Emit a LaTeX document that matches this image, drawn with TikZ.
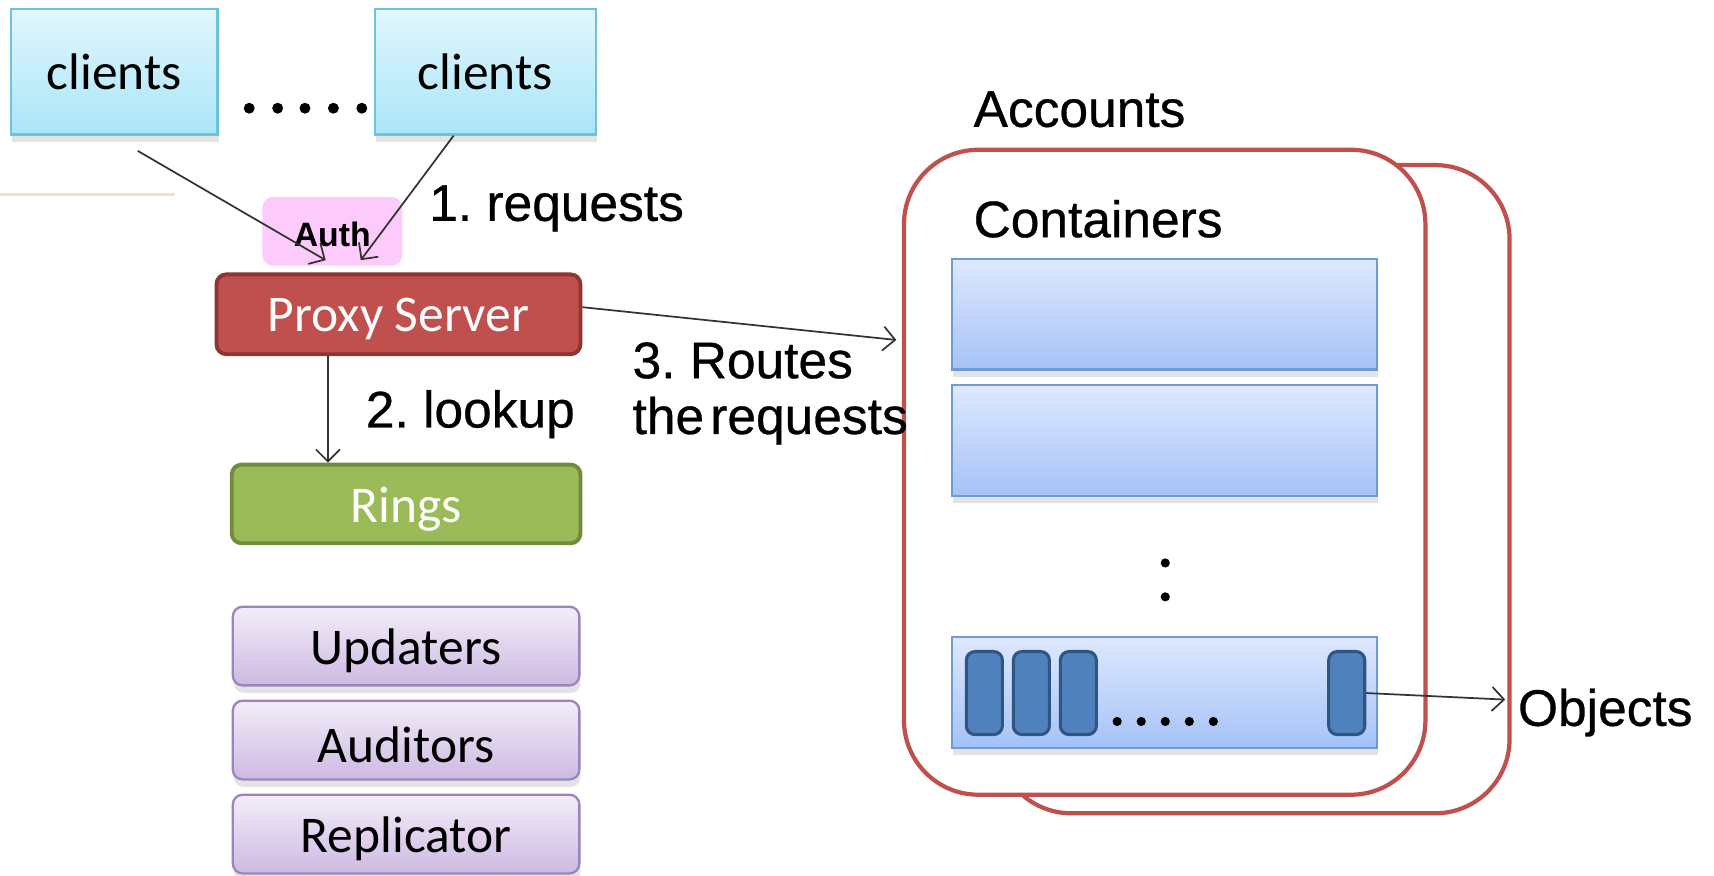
\documentclass[tikz,border=0pt]{standalone}
\usepackage{fontspec}
\setmainfont{Liberation Sans}
\newfontfamily\calfont{Carlito}
\newfontfamily\lblfont[FakeBold=0.6]{Liberation Sans}
\usetikzlibrary{arrows.meta,shadows}
\definecolor{clienttop}{HTML}{E2F7FD}
\definecolor{clientbot}{HTML}{A9E5F8}
\definecolor{clientline}{HTML}{6EC3DA}
\definecolor{authpink}{HTML}{FCCBFC}
\definecolor{proxyfill}{HTML}{C0504D}
\definecolor{proxyline}{HTML}{8E3532}
\definecolor{ringfill}{HTML}{9BBB59}
\definecolor{ringline}{HTML}{6F8C3A}
\definecolor{lavtop}{HTML}{F3EDF9}
\definecolor{lavbot}{HTML}{CDB9E2}
\definecolor{lavline}{HTML}{9A86BC}
\definecolor{bartop}{HTML}{DEE8FF}
\definecolor{barbot}{HTML}{A5C2F6}
\definecolor{barline}{HTML}{6D9BD9}
\definecolor{objfill}{HTML}{4F81BD}
\definecolor{objline}{HTML}{2F5682}
\definecolor{accred}{HTML}{C0504D}
\definecolor{peach}{HTML}{FADCC8}
\definecolor{conncol}{HTML}{333333}
\newcommand\lowtext[1]{\raisebox{-0.45mm}[\height][\depth]{#1}}
\frenchspacing
\begin{document}
\begin{tikzpicture}[x=0.1mm,y=-0.1mm,
  lbl/.style={font=\lblfont\fontsize{13.4}{16}\selectfont, inner sep=0, anchor=base west, text=black},
  boxfont/.style={font=\calfont\fontsize{13.4}{16}\selectfont},
  softshadow/.style={drop shadow={opacity=0.22, shadow xshift=0.1mm, shadow yshift=-0.7mm}},
  clientbox/.style={boxfont, draw=clientline, line width=0.6pt, top color=clienttop, bottom color=clientbot, minimum height=11.5mm, inner sep=0, softshadow},
  authbox/.style={fill=authpink, rounded corners=1mm, minimum width=12.8mm, minimum height=6.3mm, inner sep=0, font=\bfseries\fontsize{8.8}{10}\selectfont},
  proxybox/.style={boxfont, text=white, draw=proxyline, fill=proxyfill, line width=1pt, rounded corners=0.9mm, minimum width=33.3mm, minimum height=7.3mm, inner sep=0},
  ringbox/.style={boxfont, text=white, draw=ringline, fill=ringfill, line width=1pt, rounded corners=0.9mm, minimum width=31.9mm, minimum height=7.2mm, inner sep=0},
  lavbox/.style={boxfont, draw=lavline, line width=0.6pt, top color=lavtop, bottom color=lavbot, rounded corners=0.9mm, minimum width=31.7mm, minimum height=7.2mm, inner sep=0, softshadow},
  accbox/.style={draw=accred, line width=1.1pt, fill=white, rounded corners=6.8mm, inner sep=0},
  barbox/.style={draw=barline, line width=0.6pt, top color=bartop, bottom color=barbot, minimum width=38.9mm, minimum height=10.1mm, inner sep=0, softshadow},
  objbox/.style={draw=objline, line width=0.8pt, fill=objfill, rounded corners=0.8mm, minimum width=3.3mm, minimum height=7.6mm, inner sep=0},
  conn/.style={draw=conncol, line width=0.45pt, -{Straight Barb[length=1.1mm,width=2.2mm]}},
  dotfill/.style={fill=black},
]
\useasboundingbox (0,0) rectangle (1568,800.5);

% faint line
\draw[peach, line width=0.6pt] (0,178) -- (160,178);

% clients
\node[clientbox, minimum width=18.9mm] (c1) at (104.5,65.5) {clients};
\node[clientbox, minimum width=20.2mm] (c2) at (444,65.5) {clients};
\foreach \x in {228,254,279,305,331}
  \fill[dotfill] (\x,99) circle[radius=0.5mm];

% auth, proxy, rings
\node[authbox] (auth) at (304,211.5) {\raisebox{-0.3mm}[\height][\depth]{Auth}};
\node[proxybox] (proxy) at (364.5,287.5) {\lowtext{Proxy Server}};
\node[ringbox] (rings) at (371.5,461) {\lowtext{Rings}};
\node[lavbox] (upd) at (371.5,591) {\lowtext{Updaters}};
\node[lavbox] (aud) at (371.5,677) {\lowtext{Auditors}};
\node[lavbox] (rep) at (371.5,763) {\lowtext{Replicator}};

% accounts boxes
\node[accbox, minimum width=46.9mm, minimum height=59.3mm] (accback) at (1146.5,447.5) {};
\node[accbox, minimum width=47.7mm, minimum height=59mm] (acc) at (1065.5,432) {};

\node[barbox] (bar1) at (1065.5,287.5) {};
\node[barbox] (bar2) at (1065.5,403) {};
\node[barbox] (bar3) at (1065.5,633.5) {};

\node[objbox] (o1) at (900.5,634) {};
\node[objbox] (o2) at (943.5,634) {};
\node[objbox] (o3) at (986.5,634) {};
\node[objbox] (o4) at (1232,634) {};

\foreach \x in {1022,1044,1066,1088,1110}
  \fill[dotfill] (\x,660) circle[radius=0.42mm];
\fill[dotfill] (1066,515) circle[radius=0.42mm];
\fill[dotfill] (1066,546) circle[radius=0.42mm];

% labels
\node[lbl] (l1) at (392,202) {1. requests};
\node[lbl] (l2) at (334,391) {2. lookup};
\node[lbl] (l3) at (578,346) {3. Routes};
\node[lbl] (l3b) at (578,397) {the\kern0.12em requests};
\node[lbl] (lacc) at (890,116) {Accounts};
\node[lbl] (lcon) at (890,217) {Containers};
\node[lbl] (lobj) at (1388,664) {Objects};

% connectors
\coordinate (a1s) at (126,138);
\coordinate (a1e) at (298,238);
\coordinate (a2s) at (415,124);
\coordinate (a2e) at (330,238);
\coordinate (pxs) at (531,281);
\coordinate (pxe) at (820,311);
\coordinate (lk) at (300,0);
\coordinate (oe) at (1377,640);

\draw[conn] (a1s) -- (a1e);
\draw[conn] (c2.south -| a2s) -- (a2e);
\draw[conn] (proxy.east |- pxs) -- (pxe);
\draw[conn] (proxy.south -| lk) -- (rings.north -| lk);
\draw[conn] (o4.east) -- (oe);
\end{tikzpicture}
\end{document}
